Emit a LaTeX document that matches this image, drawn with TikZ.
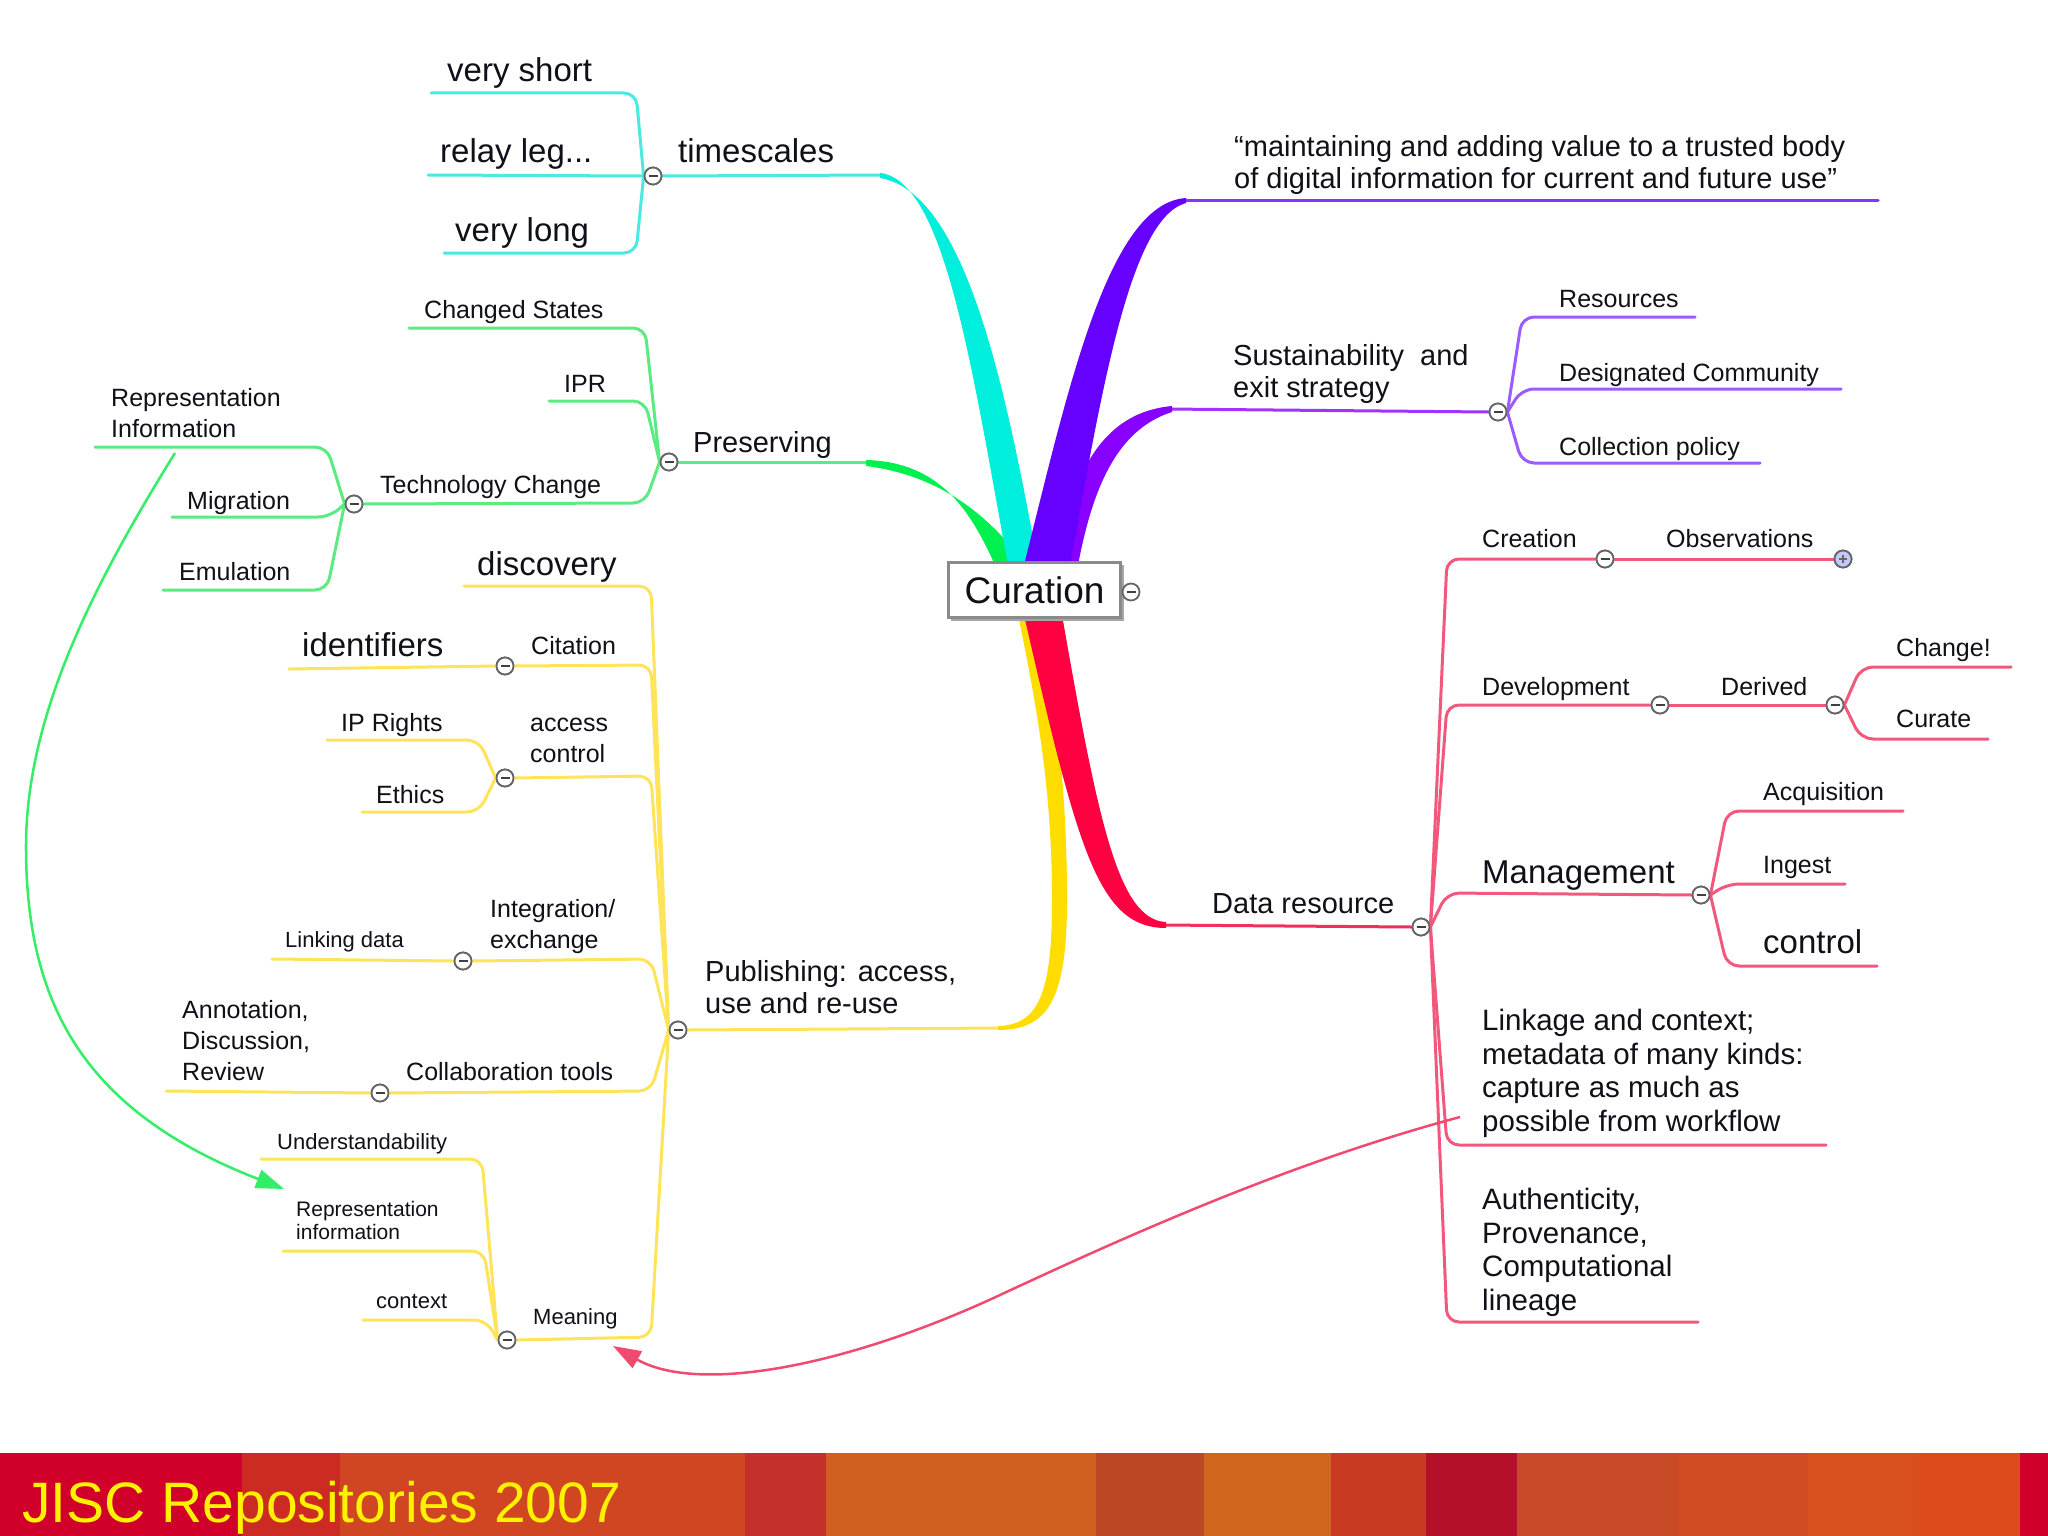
\documentclass[tikz,border=0pt]{standalone}
\usepackage{fontspec}
\setmainfont{Liberation Sans}
\usetikzlibrary{arrows.meta}
\definecolor{txt}{HTML}{101018}
\definecolor{cyanT}{HTML}{00EFDC}
\definecolor{cyanL}{HTML}{4CE8E2}
\definecolor{greenT}{HTML}{00F050}
\definecolor{greenL}{HTML}{5CEB80}
\definecolor{greenA}{HTML}{33EE66}
\definecolor{purpT}{HTML}{6600FF}
\definecolor{violT}{HTML}{8800FF}
\definecolor{purpL}{HTML}{9A5CFF}
\definecolor{yelT}{HTML}{FFDD00}
\definecolor{yelL}{HTML}{FFE45A}
\definecolor{redT}{HTML}{FF0040}
\definecolor{redM}{HTML}{F0305A}
\definecolor{redL}{HTML}{F2587C}
\definecolor{redA}{HTML}{F04A70}
\definecolor{boxG}{HTML}{8A8A8A}
\definecolor{circG}{HTML}{666666}
\definecolor{jiscY}{HTML}{FFF200}
\definecolor{fa}{HTML}{D0002A}
\definecolor{fb}{HTML}{CC2B24}
\definecolor{fc}{HTML}{D04522}
\definecolor{fd}{HTML}{C4302A}
\definecolor{fe}{HTML}{D0601F}
\definecolor{ff}{HTML}{BB4825}
\definecolor{fg}{HTML}{D0661E}
\definecolor{fh}{HTML}{C93A23}
\definecolor{fi}{HTML}{B5102A}
\definecolor{fj}{HTML}{C84A26}
\definecolor{fk}{HTML}{D04A24}
\definecolor{fl}{HTML}{D9501F}
\definecolor{fm}{HTML}{DD4A1C}
\begin{document}
\begin{tikzpicture}[x=1pt,y=-1pt,
  tx/.style={inner sep=0pt,text=txt,anchor=base west},
  txm/.style={inner sep=0pt,text=txt,anchor=north west,align=left},
  big/.style={font=\fontsize{33}{40}\selectfont},
  med/.style={font=\fontsize{29}{32.5}\selectfont},
  medL/.style={font=\fontsize{29.5}{33.5}\selectfont},
  sml/.style={font=\fontsize{25}{31}\selectfont},
  tny/.style={font=\fontsize{22}{23}\selectfont},
  tnym/.style={font=\fontsize{21}{23}\selectfont},
  ln/.style={line width=3pt,rounded corners=12pt,line cap=round},
  circ/.style={circle,draw=circG,fill=white,line width=1.8pt,minimum size=17pt,inner sep=0pt,
    path picture={\draw[line width=2pt,black!75] ([xshift=-4.5pt]path picture bounding box.center) -- ([xshift=4.5pt]path picture bounding box.center);}},
  circp/.style={circle,draw=circG,fill=blue!22!white,line width=1.8pt,minimum size=17pt,inner sep=0pt,
    path picture={\draw[line width=1.6pt,black!60] ([xshift=-4pt]path picture bounding box.center) -- ([xshift=4pt]path picture bounding box.center) ([yshift=-4pt]path picture bounding box.center) -- ([yshift=4pt]path picture bounding box.center);}},
  arr/.style={line width=2.5pt,-{Triangle[length=28pt,width=19pt]}}
]
\useasboundingbox (0,0) rectangle (2048,1536);
\fill[white] (0,0) rectangle (2048,1536);

% ---------- circles (collapse markers) ----------
\node[circ] (T) at (653,176) {};
\node[circ] (P) at (669,462) {};
\node[circ] (TC) at (354,504) {};
\node[circ] (Cit) at (505,666) {};
\node[circ] (AC) at (505,778) {};
\node[circ] (IE) at (463,961) {};
\node[circ] (CT) at (380,1093) {};
\node[circ] (Pub) at (678,1030) {};
\node[circ] (M) at (507,1340) {};
\node[circ] (S) at (1498,412) {};
\node[circ] (DR) at (1421,927) {};
\node[circ] (Cr) at (1605,559) {};
\node[circp] (Ob) at (1843,559) {};
\node[circ] (Dev) at (1660,705) {};
\node[circ] (Der) at (1835,705) {};
\node[circ] (Mg) at (1701,895) {};

% ---------- free line ends ----------
\coordinate (vsE) at (431,93);  \coordinate (rlE) at (428,175); \coordinate (vlE) at (444,253);
\coordinate (tsE) at (885,175);
\coordinate (csE) at (409,328); \coordinate (iprE) at (549,401);
\coordinate (riE) at (95,447); \coordinate (migE) at (172,517); \coordinate (emuE) at (163,590);
\coordinate (prE) at (872,462);
\coordinate (discE) at (464,586); \coordinate (idfE) at (289,669);
\coordinate (iprtE) at (327,740); \coordinate (ethE) at (362,812);
\coordinate (lnkE) at (272,959); \coordinate (annE) at (166,1091);
\coordinate (undE) at (261,1159); \coordinate (repE) at (283,1251); \coordinate (ctxE) at (363,1320);
\coordinate (pubE) at (1005,1028);
\coordinate (qS) at (1180,200); \coordinate (qE) at (1878,200);
\coordinate (susS) at (1166,409);
\coordinate (resE) at (1695,317); \coordinate (desE) at (1841,389); \coordinate (colE) at (1760,463);
\coordinate (drS) at (1160,925);
\coordinate (chgE) at (2011,667); \coordinate (curE) at (1988,739);
\coordinate (acqE) at (1903,811); \coordinate (ingE) at (1845,884); \coordinate (ctlE) at (1877,966);
\coordinate (lnkkE) at (1826,1145); \coordinate (authE) at (1698,1322);

% ---------- thin connectors ----------
\begin{scope}[ln,draw=cyanL]
\draw (vsE) -- (636,93) -- (T.west);
\draw (rlE) -- (T.west);
\draw (vlE) -- (636,253) -- (T.west);
\draw (T.east) -- (tsE);
\end{scope}
\begin{scope}[ln,draw=greenL]
\draw (csE) -- (645,328) -- (P.west);
\draw (iprE) -- (645,401) -- (P.west);
\draw (TC.east) -- (645,503) -- (P.west);
\draw (P.east) -- (prE);
\draw (riE) -- (327,447) -- (TC.west);
\draw (migE) -- (330,517) -- (TC.west);
\draw (emuE) -- (327,590) -- (TC.west);
\end{scope}
\begin{scope}[ln,draw=yelL]
\draw (discE) -- (651,586) -- (Pub.west);
\draw (Cit.east) -- (651,665) -- (Pub.west);
\draw (AC.east) -- (651,776) -- (Pub.west);
\draw (IE.east) -- (651,959) -- (Pub.west);
\draw (CT.east) -- (651,1091) -- (Pub.west);
\draw (M.east) -- (651,1337) -- (Pub.west);
\draw (Pub.east) -- (pubE);
\draw (idfE) -- (Cit.west);
\draw (iprtE) -- (479,740) -- (AC.west);
\draw (ethE) -- (479,812) -- (AC.west);
\draw (lnkE) -- (IE.west);
\draw (annE) -- (CT.west);
\draw (undE) -- (482,1159) -- (M.west);
\draw (repE) -- (484,1251) -- (M.west);
\draw (ctxE) -- (486,1320) -- (M.west);
\end{scope}
\begin{scope}[ln,draw=purpL]
\draw[draw=purpT!80!white] (qS) -- (qE);
\draw[draw=violT!80!white] (susS) -- (S.west);
\draw (S.east) -- (1522,317) -- (resE);
\draw (S.east) -- (1522,389) -- (desE);
\draw (S.east) -- (1522,463) -- (colE);
\end{scope}
\begin{scope}[ln,draw=redL]
\draw[draw=redM] (drS) -- (DR.west);
\draw (DR.east) -- (1447,559) -- (Cr.west);
\draw (Cr.east) -- (Ob.west);
\draw (DR.east) -- (1447,705) -- (Dev.west);
\draw (Dev.east) -- (Der.west);
\draw (Der.east) -- (1861,667) -- (chgE);
\draw (Der.east) -- (1861,739) -- (curE);
\draw (DR.east) -- (1447,893) -- (Mg.west);
\draw (Mg.east) -- (1727,811) -- (acqE);
\draw (Mg.east) -- (1727,884) -- (ingE);
\draw (Mg.east) -- (1727,966) -- (ctlE);
\draw (DR.east) -- (1447,1145) -- (lnkkE);
\draw (DR.east) -- (1447,1322) -- (authE);
\end{scope}

% redraw circles on top of lines
\foreach \c in {T,P,TC,Cit,AC,IE,CT,Pub,M,S,DR,Cr,Dev,Der,Mg}{\node[circ] at (\c) {};}
\node[circp] at (Ob) {};

% ---------- tapered main branches ----------
\fill[greenT] (995,565) .. controls (970,510) and (940,462) .. (866,460) -- (866,466) .. controls (945,476) and (992,520) .. (1026,565) -- cycle;
\fill[cyanT] (1008,565) .. controls (972,370) and (945,180) .. (880,173) -- (880,178) .. controls (962,192) and (1003,370) .. (1038,565) -- cycle;
\fill[violT] (1052,565) .. controls (1073,478) and (1098,413) .. (1172,406) -- (1172,412) .. controls (1115,430) and (1092,492) .. (1078,565) -- cycle;
\fill[purpT] (1024,565) .. controls (1068,390) and (1108,203) .. (1186,198) -- (1186,203) .. controls (1130,218) and (1102,390) .. (1070,565) -- cycle;
\fill[yelT] (1018,615) .. controls (1040,720) and (1052,800) .. (1052,900) .. controls (1052,990) and (1040,1025) .. (998,1026) -- (998,1030) .. controls (1048,1030) and (1067,1000) .. (1067,900) .. controls (1067,800) and (1058,720) .. (1042,615) -- cycle;
\fill[redT] (1024,615) .. controls (1078,850) and (1098,928) .. (1166,928) -- (1166,922) .. controls (1118,920) and (1098,820) .. (1062,615) -- cycle;

% ---------- central node ----------
\fill[black!35] (951,565) rectangle (1124,621);
\node[draw=boxG,line width=2.5pt,fill=white,minimum width=172pt,minimum height=55pt,inner sep=0pt,
  font=\fontsize{37}{40}\selectfont,text=txt] (cur) at (1034.5,590) {Curation};
\node[circ] (cc) at (1131,592) {};

% ---------- texts ----------
\node[tx,big] (vs) at (447,82) {very short};
\node[tx,big] (rl) at (440,163) {relay leg...};
\node[tx,big] (vl) at (455,241) {very long};
\node[tx,big] (ts) at (678,162) {timescales};

\node[tx,sml] (cs) at (424,318) {Changed States};
\node[tx,sml] (ipr) at (564,392) {IPR};
\node[tx,sml] (tch) at (380,493) {Technology Change};
\node[tx,med] (pres) at (693,452) {Preserving};
\node[txm,sml] (ri) at (111,388) {Representation\\Information};
\node[tx,sml] (mig) at (187,509) {Migration};
\node[tx,sml] (emu) at (179,580) {Emulation};

\node[tx,big] (disc) at (477,575) {discovery};
\node[tx,big] (idf) at (302,656) {identifiers};
\node[tx,sml] (cit) at (531,654) {Citation};
\node[tx,sml] (iprt) at (341,731) {IP Rights};
\node[txm,sml] (acc) at (530,718) {access\\control};
\node[tx,sml] (eth) at (376,803) {Ethics};
\node[txm,sml] (int) at (490,899) {Integration/\\exchange};
\node[tx,tny] (lnk) at (285,947) {Linking data};
\node[txm,med] (pub) at (705,960) {Publishing: access,\\use and re-use};
\node[txm,sml] (ann) at (182,1000) {Annotation,\\Discussion,\\Review};
\node[tx,sml] (col) at (406,1080) {Collaboration tools};
\node[tx,tny] (und) at (277,1149) {Understandability};
\node[txm,tnym] (rep) at (296,1201) {Representation\\information};
\node[tx,tny] (ctx) at (376,1308) {context};
\node[tx,tny] (mean) at (533,1324) {Meaning};

\node[txm,med] (quote) at (1234,135) {“maintaining and adding value to a trusted body\\of digital information for current and future use”};
\node[txm,med] (sus) at (1233,344) {Sustainability\ \ and\\exit strategy};
\node[tx,sml] (res) at (1559,307) {Resources};
\node[tx,sml] (des) at (1559,381) {Designated Community};
\node[tx,sml] (colp) at (1559,455) {Collection policy};

\node[tx,med] (dr) at (1212,913) {Data resource};
\node[tx,sml] (cre) at (1482,547) {Creation};
\node[tx,sml] (obs) at (1666,547) {Observations};
\node[tx,sml] (dev) at (1482,695) {Development};
\node[tx,sml] (der) at (1721,695) {Derived};
\node[tx,sml] (chg) at (1896,656) {Change!};
\node[tx,sml] (cura) at (1896,727) {Curate};
\node[tx,big] (mgt) at (1482,883) {Management};
\node[tx,sml] (acq) at (1763,800) {Acquisition};
\node[tx,sml] (ing) at (1763,873) {Ingest};
\node[tx,big] (ctl) at (1763,953) {control};
\node[txm,medL] (lnkk) at (1482,1009) {Linkage and context;\\metadata of many kinds:\\capture as much as\\possible from workflow};
\node[txm,medL] (auth) at (1482,1188) {Authenticity,\\Provenance,\\Computational\\lineage};

% ---------- cross-link arrows ----------
\coordinate (gaS) at (175,453);
\coordinate (gaE) at (284,1189);
\draw[arr,greenA] (gaS) .. controls (90,590) and (25,720) .. (26,850) .. controls (27,1000) and (80,1110) .. (gaE);
\coordinate (raS) at (1460,1117);
\coordinate (raE) at (613,1346);
\draw[arr,redA] (raS) .. controls (1300,1160) and (1150,1225) .. (1000,1295) .. controls (850,1365) and (700,1395) .. (raE);

% ---------- footer band ----------
\fill[fa] (0,1453) rectangle (242,1536);
\fill[fb] (242,1453) rectangle (340,1536);
\fill[fc] (340,1453) rectangle (745,1536);
\fill[fd] (745,1453) rectangle (826,1536);
\fill[fe] (826,1453) rectangle (1096,1536);
\fill[ff] (1096,1453) rectangle (1204,1536);
\fill[fg] (1204,1453) rectangle (1331,1536);
\fill[fh] (1331,1453) rectangle (1426,1536);
\fill[fi] (1426,1453) rectangle (1517,1536);
\fill[fj] (1517,1453) rectangle (1677,1536);
\fill[fk] (1677,1453) rectangle (1808,1536);
\fill[fl] (1808,1453) rectangle (1919,1536);
\fill[fm] (1919,1453) rectangle (2020,1536);
\fill[fa] (2020,1453) rectangle (2048,1536);
\node[anchor=base west,inner sep=0pt,text=jiscY,font=\fontsize{57}{60}\selectfont] (jisc) at (22,1522) {JISC Repositories 2007};
\end{tikzpicture}
\end{document}
